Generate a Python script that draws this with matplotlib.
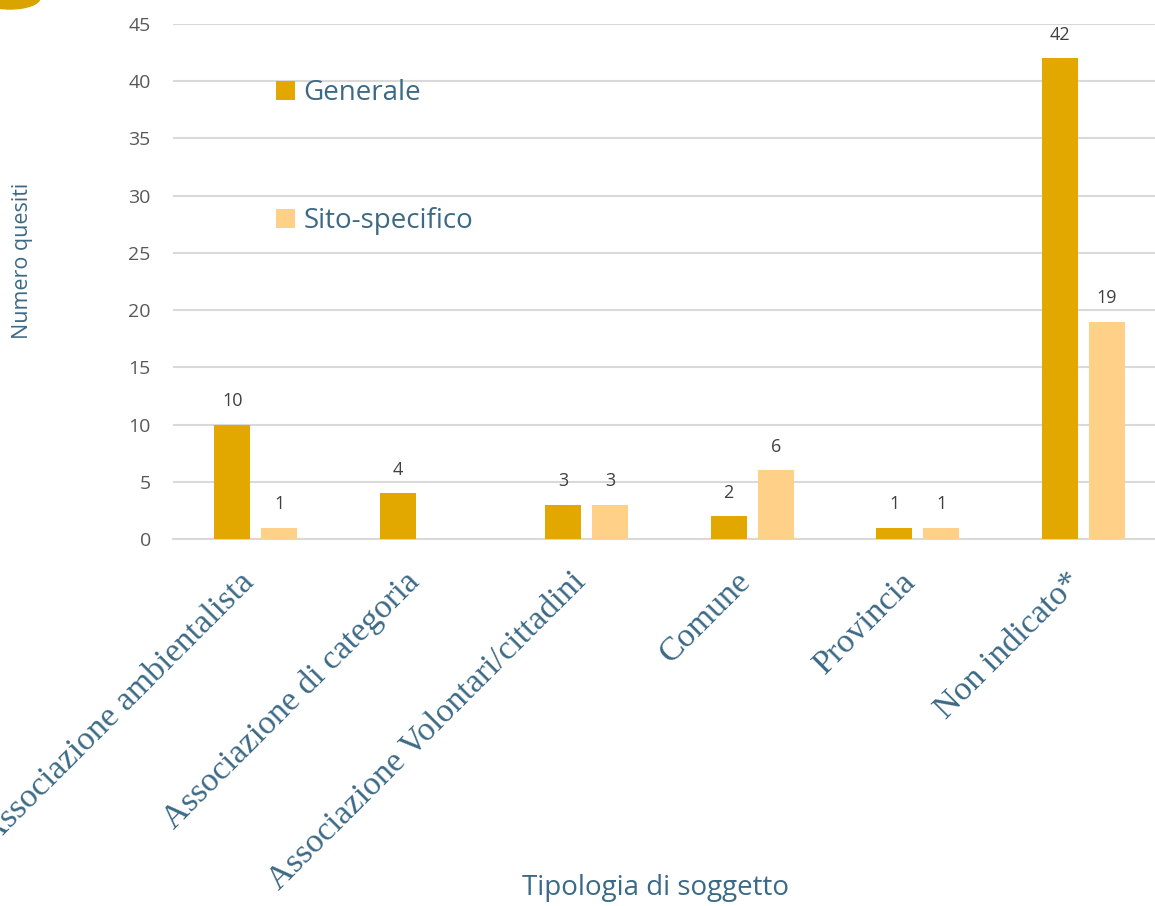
import matplotlib
matplotlib.use("Agg")
import matplotlib.pyplot as plt
import matplotlib.transforms as mtransforms
import numpy as np
from matplotlib.patches import Ellipse

categories = ["Associazione ambientalista", "Associazione di categoria",
              "Associazione Volontari/cittadini", "Comune", "Provincia", "Non indicato*"]
generale = [10, 4, 3, 2, 1, 42]
sito = [1, 0, 3, 6, 1, 19]
yticks = [0, 5, 10, 15, 20, 25, 30, 35, 40, 45]

c_gen = "#E2A800"
c_sito = "#FFD088"
blue = "#3C6A86"
gray = "#595959"

W, H = 1155, 906
fig = plt.figure(figsize=(W / 100, H / 100), dpi=100)
ax = fig.add_axes([173 / W, (H - 539) / H, (W - 173) / W, (539 - 24) / H])

x = np.arange(len(categories))
bw = 0.2175
off = 0.142
gen_vals = np.array(generale)
sito_vals = np.array(sito)
ax.bar(x - off, gen_vals, bw, color=c_gen, label="Generale", zorder=3)
mask = sito_vals > 0
ax.bar(x[mask] + off, sito_vals[mask], bw, color=c_sito, label="Sito-specifico", zorder=3)

for xi, v in zip(x, gen_vals):
    ax.text(xi - off, v + 1.25, str(v), ha="center", va="bottom", fontsize=13,
            color="#404040", family="Open Sans")
for xi, v in zip(x, sito_vals):
    if v > 0:
        ax.text(xi + off, v + 1.25, str(v), ha="center", va="bottom", fontsize=13,
                color="#404040", family="Open Sans")

ax.set_ylim(0, 45)
ax.set_xlim(-0.5, -0.5 + (W - 173) / 165.5)
ax.set_yticks(yticks)
ax.yaxis.grid(True, color="#D9D9D9", linewidth=1.5, zorder=0)
ax.set_axisbelow(True)
for s in ["top", "right", "left"]:
    ax.spines[s].set_visible(False)
ax.spines["bottom"].set_color("#D9D9D9")
ax.spines["bottom"].set_linewidth(1.5)
ax.tick_params(axis="y", length=0, pad=16, labelsize=14, labelcolor=gray)
for lbl in ax.get_yticklabels():
    lbl.set_family("Open Sans")
ax.tick_params(axis="x", length=0, pad=4)
ax.set_xticks(x)
ax.set_xticklabels(categories, rotation=45, ha="right", va="top",
                   rotation_mode="anchor", fontsize=24.5, color=blue,
                   family="Liberation Serif")
shift = mtransforms.Affine2D().translate(-17, -22)
for lbl in ax.get_xticklabels():
    lbl.set_transform(lbl.get_transform() + shift)

fig.text(23 / W, (H - 261) / H, "Numero quesiti", rotation=90, ha="center", va="center",
         fontsize=15.5, color=blue, family="Open Sans")
fig.text(655 / W, (H - 888) / H, "Tipologia di soggetto", ha="center", va="center",
         fontsize=20, color=blue, family="Open Sans")

leg = ax.legend(loc="upper left", bbox_to_anchor=((251 - 173) / (W - 173), (539 - 54) / 515),
                frameon=False, labelcolor=blue, handlelength=0.68,
                handleheight=0.68, handletextpad=0.3, labelspacing=3.6,
                prop={"family": "Open Sans", "size": 20})

# decorative corner element
e = Ellipse((10 / W, 1.0 + 2 / H), 60 / W, 22 / H, transform=fig.transFigure,
            color="#D9A300", clip_on=False)
fig.patches.append(e)

fig.savefig("out.png", dpi=100)
